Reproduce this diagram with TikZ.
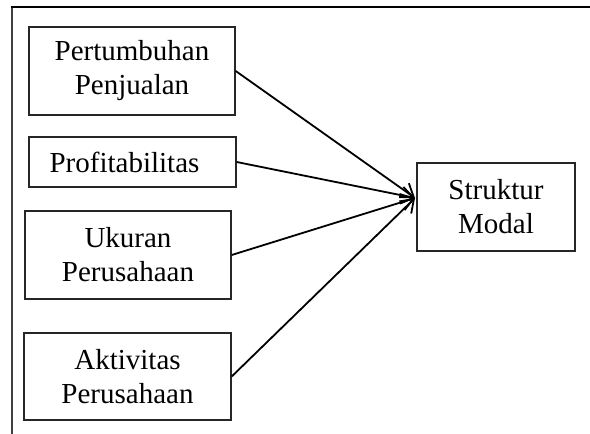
\documentclass[tikz,border=0pt]{standalone}
\usepackage{fontspec}
\setmainfont{Liberation Serif}
\usetikzlibrary{arrows.meta}
\begin{document}
\begin{tikzpicture}[x=1pt,y=-1pt,
  boxnode/.style={draw=black!85,line width=1.4pt,inner sep=0pt,align=center,
    font=\fontsize{29}{34}\selectfont},
  link/.style={line width=1.8pt,-{Straight Barb[length=12pt,width=17pt]}}]
\useasboundingbox (0,0) rectangle (590,434);
% frame
\draw[line width=1.5pt,black!75] (12,7) -- (12,434);
\draw[line width=2.2pt] (11.3,7) -- (590,7);
% nodes
\node[boxnode,minimum width=206pt,minimum height=88pt] (pp) at (132,71) {Pertumbuhan\\Penjualan};
\node[boxnode,minimum width=207pt,minimum height=50pt] (pr) at (132.5,162) {Profitabilitas\hspace{16pt}};
\node[boxnode,minimum width=206pt,minimum height=88pt] (up) at (128,255) {Ukuran\\Perusahaan};
\node[boxnode,minimum width=207pt,minimum height=87pt] (ap) at (127.5,376.5) {Aktivitas\\Perusahaan};
\node[boxnode,minimum width=158pt,minimum height=88pt] (sm) at (496,207) {Struktur\\Modal};
\coordinate (tip) at (415,198);
% connectors
\draw[link] (pp.east) -- (tip);
\draw[link] (pr.east) -- (tip);
\draw[link] (up.east) -- (tip);
\draw[link] (ap.east) -- (tip);
\end{tikzpicture}
\end{document}
